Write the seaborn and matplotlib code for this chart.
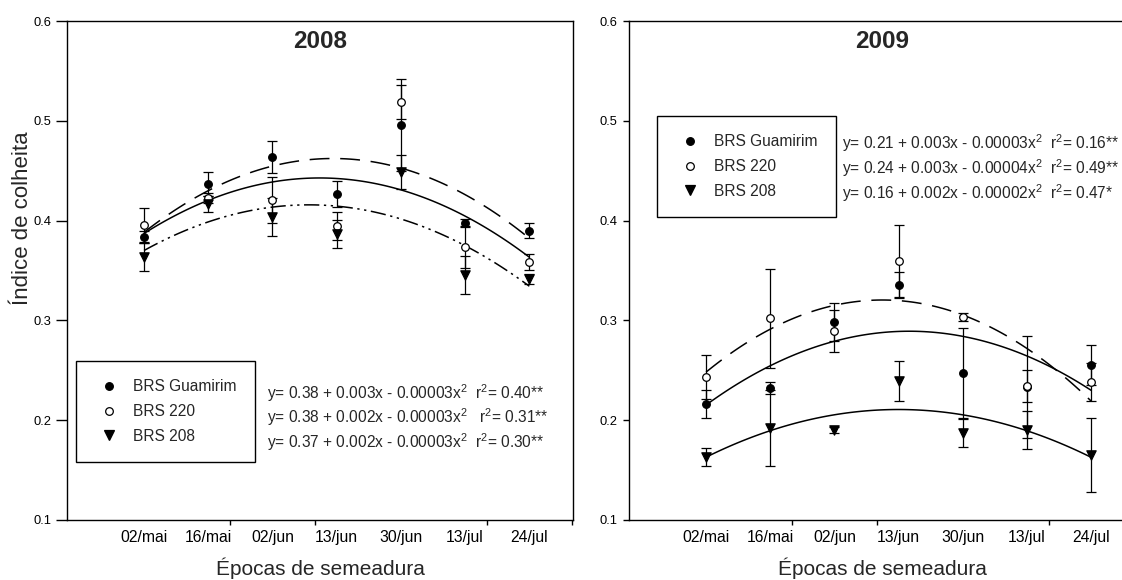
import numpy as np
import matplotlib
matplotlib.use("Agg")
import matplotlib.pyplot as plt
from matplotlib.lines import Line2D
from matplotlib.ticker import FormatStrFormatter
import seaborn as sns

# Sowing dates and their position along the season (days)
datas = ["02/mai", "16/mai", "02/jun", "13/jun", "30/jun", "13/jul", "24/jul"]
dias = [0, 15, 30, 45, 60, 75, 90]
cultivares = ["BRS Guamirim", "BRS 220", "BRS 208"]

# Harvest index, 2008 (mean and standard error)
guamirim_2008 = [0.384, 0.437, 0.464, 0.427, 0.496, 0.398, 0.390]
guamirim_2008_ep = [0.006, 0.012, 0.016, 0.013, 0.046, 0.004, 0.0075]
brs220_2008 = [0.396, 0.423, 0.421, 0.395, 0.519, 0.374, 0.359]
brs220_2008_ep = [0.017, 0.005, 0.023, 0.014, 0.017, 0.021, 0.008]
brs208_2008 = [0.364, 0.417, 0.404, 0.387, 0.449, 0.3455, 0.341]
brs208_2008_ep = [0.014, 0.008, 0.019, 0.014, 0.017, 0.019, 0.005]

# Harvest index, 2009 (mean and standard error)
guamirim_2009 = [0.216, 0.232, 0.298, 0.335, 0.247, 0.233, 0.255]
guamirim_2009_ep = [0.014, 0.006, 0.019, 0.013, 0.045, 0.051, 0.020]
brs220_2009 = [0.2436, 0.302, 0.289, 0.3595, 0.3037, 0.234, 0.2386]
brs220_2009_ep = [0.022, 0.050, 0.021, 0.036, 0.004, 0.016, 0.019]
brs208_2009 = [0.163, 0.192, 0.190, 0.239, 0.187, 0.190, 0.165]
brs208_2009_ep = [0.009, 0.038, 0.003, 0.020, 0.014, 0.019, 0.037]

equacoes_2008 = [
    r"y= 0.38 + 0.003x - 0.00003x$^{\mathregular{2}}$  r$^{\mathregular{2}}$= 0.40**",
    r"y= 0.38 + 0.002x - 0.00003x$^{\mathregular{2}}$   r$^{\mathregular{2}}$= 0.31**",
    r"y= 0.37 + 0.002x - 0.00003x$^{\mathregular{2}}$  r$^{\mathregular{2}}$= 0.30**",
]
equacoes_2009 = [
    r"y= 0.21 + 0.003x - 0.00003x$^{\mathregular{2}}$  r$^{\mathregular{2}}$= 0.16**",
    r"y= 0.24 + 0.003x - 0.00004x$^{\mathregular{2}}$  r$^{\mathregular{2}}$= 0.49**",
    r"y= 0.16 + 0.002x - 0.00002x$^{\mathregular{2}}$  r$^{\mathregular{2}}$= 0.47*",
]

sns.set_style("ticks")
fonte = "Liberation Sans"
plt.rcParams["font.family"] = [fonte, "DejaVu Sans"]
plt.rcParams["mathtext.fontset"] = "custom"
plt.rcParams["mathtext.rm"] = fonte
plt.rcParams["axes.linewidth"] = 1.0
plt.rcParams["axes.edgecolor"] = "black"

fig = plt.figure(figsize=(11.22, 5.8), dpi=100)
W, H = 1122, 580
ax08 = fig.add_axes([67 / W, 60 / H, 506 / W, 499 / H])
ax09 = fig.add_axes([629 / W, 60 / H, 506 / W, 499 / H])

marcadores = [
    dict(marker="o", s=30, facecolors="black"),
    dict(marker="o", s=30, facecolors="white"),
    dict(marker="v", s=45, facecolors="black"),
]

tracejado = (13, 7)
traco_ponto = (10, 3, 1.5, 3, 1.5, 3)

TXT = 11.2

paineis = [
    (ax08, "2008",
     [(guamirim_2008, guamirim_2008_ep, tracejado),
      (brs220_2008, brs220_2008_ep, None),
      (brs208_2008, brs208_2008_ep, traco_ponto)],
     equacoes_2008, (0.018, 0.319), (0.395, [0.2545, 0.2064, 0.1563]), 8, 3),
    (ax09, "2009",
     [(guamirim_2009, guamirim_2009_ep, None),
      (brs220_2009, brs220_2009_ep, tracejado),
      (brs208_2009, brs208_2009_ep, None)],
     equacoes_2009, (0.055, 0.810), (0.421, [0.7555, 0.7054, 0.6553]), 4.3, 4),
]

for ax, ano, series, equacoes, leg_pos, eq_pos, ytick_len, ytick_pad in paineis:
    for (vals, ep, dash), mk in zip(series, marcadores):
        ax.errorbar(dias, vals, yerr=ep, fmt="none", ecolor="black",
                    elinewidth=0.9, capsize=3.6, capthick=0.9, zorder=2)
        line_kws = dict(color="black", lw=1.1, zorder=2.5)
        if dash is not None:
            line_kws["dashes"] = dash
        sns.regplot(x=np.array(dias, dtype=float), y=np.array(vals), order=2,
                    ci=None, ax=ax, color="black", marker=mk["marker"],
                    scatter_kws=dict(s=mk["s"], facecolors=mk["facecolors"],
                                     edgecolors="black", linewidths=0.9,
                                     alpha=1, zorder=3),
                    line_kws=line_kws)

    ax.set_xlim(-18, 100.2)
    ax.set_ylim(0.1, 0.6)
    ax.set_xticks(dias, labels=datas)
    ax.set_xticks([0, 20, 40, 60, 80, 100], minor=True)
    ax.tick_params(axis="x", which="major", length=0, pad=7, labelsize=11.3,
                   colors="black")
    ax.tick_params(axis="x", which="minor", length=3.6, width=1,
                   direction="out", color="black")
    ax.set_yticks([0.1, 0.2, 0.3, 0.4, 0.5, 0.6])
    ax.yaxis.set_major_formatter(FormatStrFormatter("%.1f"))
    ax.tick_params(axis="y", length=ytick_len, width=1, direction="out",
                   pad=ytick_pad, labelsize=9.3, colors="black")
    for sp in ax.spines.values():
        sp.set_visible(True)
        sp.set_color("black")
        sp.set_linewidth(1.0)

    ax.text(0.5, 1 - 21 / 499, ano, transform=ax.transAxes, ha="center",
            va="center", fontsize=17.5, fontweight="bold")

    ax.set_xlabel("Épocas de semeadura", fontsize=15)
    ax.xaxis.label.set_va("center")
    ax.xaxis.set_label_coords(0.5, -0.096)

    handles = [Line2D([], [], ls="none", marker=mk["marker"],
                      markersize=6.5 if mk["marker"] == "v" else 5.5,
                      markerfacecolor=mk["facecolors"],
                      markeredgecolor="black", markeredgewidth=0.9)
               for mk in marcadores]
    leg = ax.legend(handles, cultivares, loc="upper left",
                    bbox_to_anchor=leg_pos, borderaxespad=0, fontsize=TXT,
                    frameon=True, fancybox=False, edgecolor="black",
                    framealpha=1, borderpad=1.2, handlelength=1.82,
                    handletextpad=0.65, labelspacing=0.62)
    leg.get_frame().set_linewidth(1.0)

    for eq, yy in zip(equacoes, eq_pos[1]):
        ax.text(eq_pos[0], yy, eq, transform=ax.transAxes, ha="left",
                va="center", fontsize=TXT)

ax08.set_ylabel("Índice de colheita", fontsize=16)
ax08.yaxis.label.set_va("center")
ax08.yaxis.set_label_coords(-0.088, 0.605)

fig.savefig("out.png", dpi=100)
